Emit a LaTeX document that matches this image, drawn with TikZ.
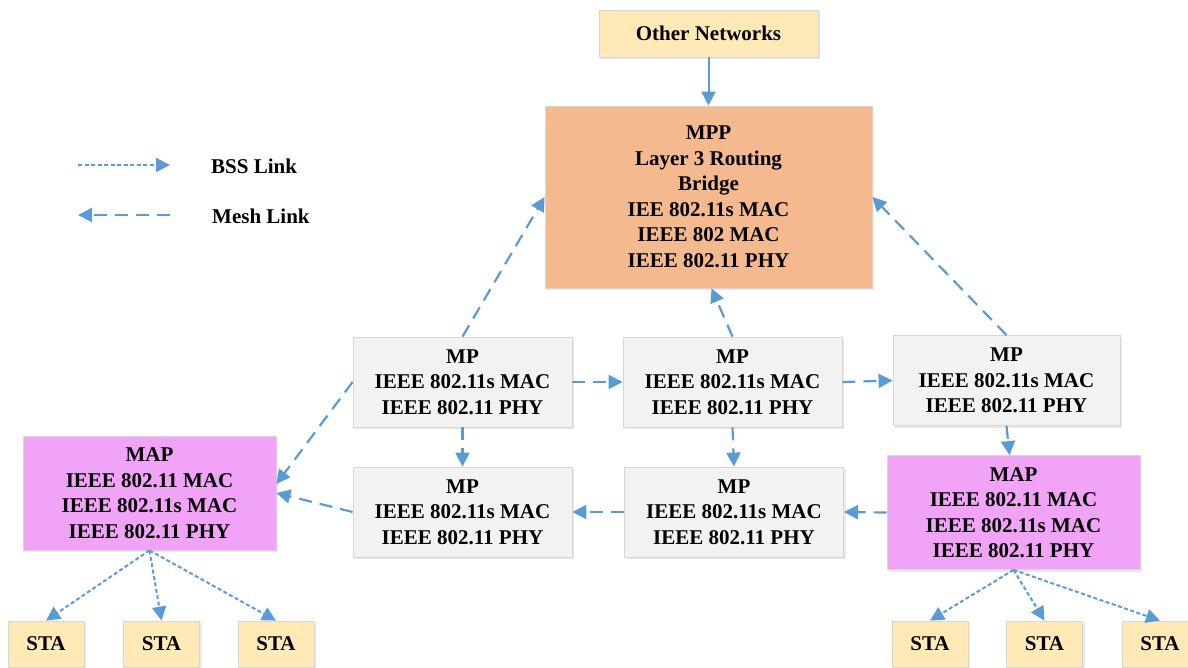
\documentclass[tikz,border=0pt]{standalone}
\usepackage{fontspec}
\setmainfont{Liberation Serif}
\usetikzlibrary{arrows.meta,shadows,calc}
\definecolor{linkblue}{RGB}{91,155,213}
\definecolor{boxline}{RGB}{214,214,214}
\definecolor{netfill}{RGB}{255,234,183}
\definecolor{mppfill}{RGB}{244,185,143}
\definecolor{mpfill}{RGB}{242,242,242}
\definecolor{mapfill}{RGB}{241,163,247}
\begin{document}
\begin{tikzpicture}[x=1pt,y=-1pt,
  box/.style={draw=boxline, line width=0.8pt, align=center, inner sep=0pt,
    font=\fontsize{21}{25.5}\selectfont\bfseries,
    drop shadow={shadow xshift=2pt, shadow yshift=-2pt, fill=black!25, opacity=0.35}},
  netbox/.style={box, fill=netfill, minimum width=219pt, minimum height=47pt},
  mppbox/.style={box, fill=mppfill, minimum width=327pt, minimum height=182pt},
  mpbox/.style={box, fill=mpfill, minimum width=219pt, minimum height=90pt},
  mapbox/.style={box, fill=mapfill, minimum width=253pt, minimum height=114pt},
  stabox/.style={box, fill=netfill, minimum width=76pt, minimum height=46pt},
  tip/.style={-{Triangle[length=14pt,width=14pt]}},
  feed/.style={draw=linkblue, line width=2pt, tip},
  mesh/.style={draw=linkblue, line width=2.2pt, dash pattern=on 13pt off 8pt, tip},
  bss/.style={draw=linkblue, line width=2pt, dash pattern=on 4pt off 2.5pt, tip},
  legendtext/.style={anchor=west, inner sep=0pt, font=\fontsize{21}{25.5}\selectfont\bfseries}
]
\useasboundingbox (0,0) rectangle (1188,667);

% nodes
\node[netbox] (net) at (708.5,33.5) {Other Networks};
\node[mppbox] (mpp) at (708.5,197) {MPP\\Layer 3 Routing\\Bridge\\IEE 802.11s MAC\\IEEE 802 MAC\\IEEE 802.11 PHY};
\node[mpbox] (mp1) at (462.5,382) {MP\\IEEE 802.11s MAC\\IEEE 802.11 PHY};
\node[mpbox] (mp2) at (732.5,382) {MP\\IEEE 802.11s MAC\\IEEE 802.11 PHY};
\node[mpbox, minimum width=227pt] (mp3) at (1006.5,380.5) {MP\\IEEE 802.11s MAC\\IEEE 802.11 PHY};
\node[mpbox] (mp4) at (462.5,512) {MP\\IEEE 802.11s MAC\\IEEE 802.11 PHY};
\node[mpbox] (mp5) at (734,512) {MP\\IEEE 802.11s MAC\\IEEE 802.11 PHY};
\node[mapbox] (mapl) at (149.5,493) {MAP\\IEEE 802.11 MAC\\IEEE 802.11s MAC\\IEEE 802.11 PHY};
\node[mapbox] (mapr) at (1013.5,512.5) {MAP\\IEEE 802.11 MAC\\IEEE 802.11s MAC\\IEEE 802.11 PHY};
\node[stabox] (sta1) at (46,644) {STA};
\node[stabox] (sta2) at (161.5,644) {STA};
\node[stabox] (sta3) at (276,644) {STA};
\node[stabox] (sta4) at (930,644) {STA};
\node[stabox] (sta5) at (1044.5,644) {STA};
\node[stabox] (sta6) at (1160,644) {STA};

% legend
\coordinate (bssA) at (78,165);
\coordinate (bssB) at (170,165);
\coordinate (meshA) at (170,215);
\coordinate (meshB) at (78,215);
\draw[bss] (bssA) -- (bssB);
\draw[mesh] (meshA) -- (meshB);
\node[legendtext] (bsslabel) at (211,166) {BSS Link};
\node[legendtext] (meshlabel) at (212,216) {Mesh Link};

% uplink
\draw[feed] (net.south) -- (mpp.north);

% mesh links
\draw[mesh] (mp1.north) -- (mpp.west);
\draw[mesh] (mp2.north) -- ($(mpp.south)+(3,0)$);
\draw[mesh] (mp3.north) -- (mpp.east);
\draw[mesh] (mp1.west) -- ($(mapl.east)+(0,-9)$);
\draw[mesh] (mp1.east) -- (mp2.west);
\draw[mesh] (mp2.east) -- (mp3.west);
\draw[mesh] (mp1.south) -- (mp4.north);
\draw[mesh] (mp2.south) -- (mp5.north);
\draw[mesh] (mp3.south) -- ($(mapr.north)+(-4,0)$);
\draw[mesh] (mapr.west) -- (mp5.east);
\draw[mesh] (mp5.west) -- (mp4.east);
\draw[mesh] (mp4.west) -- (mapl.east);

% BSS links
\foreach \s in {sta1,sta2,sta3} \draw[bss] (mapl.south) -- (\s.north);
\foreach \s in {sta4,sta5,sta6} \draw[bss] (mapr.south) -- (\s.north);
\end{tikzpicture}
\end{document}
